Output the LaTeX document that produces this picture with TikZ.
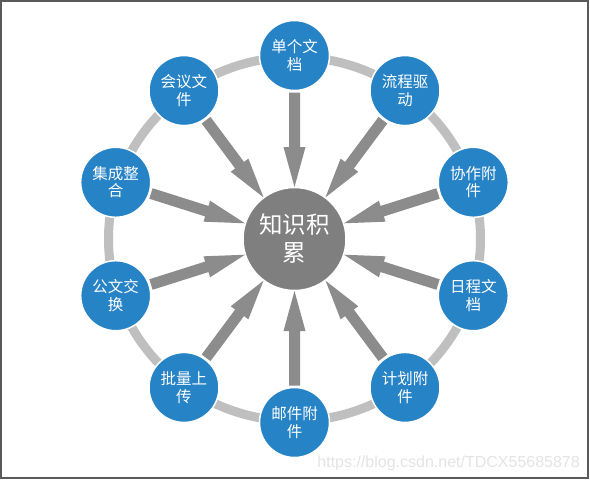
\documentclass[tikz,border=0pt]{standalone}
\usepackage{fontspec}
\newfontfamily\cjk{Noto Sans CJK SC}
\setsansfont{Liberation Sans}
\usetikzlibrary{calc}
\definecolor{nodeblue}{RGB}{38,131,198}
\definecolor{ringgray}{RGB}{191,191,191}
\definecolor{arrowgray}{RGB}{140,140,140}
\definecolor{hubgray}{RGB}{127,127,127}
\definecolor{framegray}{RGB}{90,90,90}
\definecolor{marktext}{RGB}{228,228,228}
\begin{document}
\begin{tikzpicture}[x=1pt,y=-1pt,
  leaf/.style={circle, fill=nodeblue, draw=white, line width=1.5pt, minimum size=70pt, inner sep=0pt, text=white, font=\cjk\fontsize{15.5}{17.5}\selectfont, align=center},
  hub/.style={circle, fill=hubgray, draw=white, line width=1.5pt, minimum size=103pt, inner sep=0pt, text=white, font=\cjk\fontsize{23.5}{28}\selectfont, align=center},
  spoke/.style={fill=arrowgray, draw=none},
  ring/.style={draw=ringgray, line width=9pt},
  frame/.style={draw=framegray, line width=2pt}]
\useasboundingbox (0,0) rectangle (590,480);
\fill[white] (0,0) rectangle (590,480);
\draw[frame] (1,1) rectangle (588,478);
\draw[ring] (294.5,239) ellipse [x radius=186, y radius=182];
\node[hub] (c) at (294.5,239) {知识积\\累};
\node[leaf] (n0) at ({294.5+188*cos(90)},{239-183.5*sin(90)}) {单个文\\档};
\node[leaf] (n1) at ({294.5+188*cos(54)},{239-183.5*sin(54)}) {流程驱\\动};
\node[leaf] (n2) at ({294.5+188*cos(18)},{239-183.5*sin(18)}) {协作附\\件};
\node[leaf] (n3) at ({294.5+188*cos(-18)},{239-183.5*sin(-18)}) {日程文\\档};
\node[leaf] (n4) at ({294.5+188*cos(-54)},{239-183.5*sin(-54)}) {计划附\\件};
\node[leaf] (n5) at ({294.5+188*cos(-90)},{239-183.5*sin(-90)}) {邮件附\\件};
\node[leaf] (n6) at ({294.5+188*cos(-126)},{239-183.5*sin(-126)}) {批量上\\传};
\node[leaf] (n7) at ({294.5+188*cos(-162)},{239-183.5*sin(-162)}) {公文交\\换};
\node[leaf] (n8) at ({294.5+188*cos(162)},{239-183.5*sin(162)}) {集成整\\合};
\node[leaf] (n9) at ({294.5+188*cos(126)},{239-183.5*sin(126)}) {会议文\\件};
\foreach \n in {n0,n1,n2,n3,n4,n5,n6,n7,n8,n9}{
  \coordinate (S) at ($(\n)!37pt!(c)$);
  \coordinate (T) at ($(c)!52pt!(\n)$);
  \coordinate (H) at ($(T)!40pt!(S)$);
  \fill[spoke] ($(S)!5.5pt!90:(T)$) -- ($(H)!5.5pt!-90:(S)$) -- ($(H)!11pt!-90:(S)$) -- (T)
     -- ($(H)!11pt!90:(S)$) -- ($(H)!5.5pt!90:(S)$) -- ($(S)!5.5pt!-90:(T)$) -- cycle;
}
\node[anchor=base east, text=marktext, font=\sffamily\fontsize{16}{16}\selectfont, inner sep=0pt] (wm) at (580,467) {https://blog.csdn.net/TDCX55685878};
\end{tikzpicture}
\end{document}
